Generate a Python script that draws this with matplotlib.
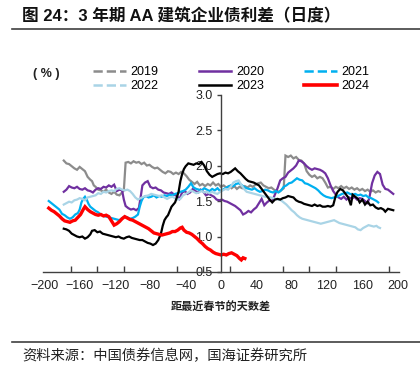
import matplotlib
matplotlib.use('Agg')
import matplotlib.pyplot as plt
from matplotlib.lines import Line2D
from matplotlib.ticker import MultipleLocator, FixedLocator

plt.rcParams['font.family'] = ['Liberation Sans', 'Noto Sans CJK SC', 'DejaVu Sans']

### data: days to nearest spring festival -> 3y AA construction bond spread (%)
days_2019 = [-178,-175,-172,-169,-166,-163,-160,-157,-154,-151,-148,-146,-144,-142,-139,-136,-133,-130,-127,-124,-121,-118,-115,-112,-110,-108,-105,-102,-99,-96,-93,-90,-87,-84,-81,-78,-75,-72,-69,-66,-63,-60,-57,-54,-51,-48,-45,-42,-39,-36,-33,-30,-27,-24,-21,-18,-15,-12,-9,-6,-3,0,3,6,9,12,15,18,21,24,27,30,33,36,39,42,45,48,51,54,57,60,63,66,69,71,73,76,79,82,85,88,91,94,97,100,103,106,109,112,115,118,121,124,127,130,133,136,139,142,145,148,151,154,157,160,163,166,169,172,175,178,180]
spread_2019 = [2.07,2.03,2.02,1.99,1.96,1.94,1.98,1.95,1.92,1.84,1.80,1.78,1.72,1.70,1.66,1.65,1.63,1.66,1.62,1.60,1.63,1.59,1.58,1.62,1.65,2.04,2.05,2.03,2.06,2.04,2.05,2.02,2.04,2.00,2.01,1.98,1.96,1.97,1.94,1.91,1.89,1.92,1.91,1.88,1.90,1.88,1.91,1.89,1.85,1.80,1.77,1.74,1.77,1.72,1.74,1.71,1.74,1.72,1.76,1.72,1.74,1.70,1.72,1.69,1.71,1.68,1.71,1.67,1.70,1.68,1.71,1.69,1.72,1.70,1.73,1.75,1.76,1.72,1.70,1.68,1.69,1.66,1.64,1.63,1.66,1.68,2.14,2.12,2.14,2.10,2.12,2.08,2.07,2.03,1.92,1.87,1.84,1.86,1.82,1.84,1.82,1.76,1.69,1.70,1.67,1.70,1.68,1.71,1.68,1.70,1.67,1.69,1.66,1.68,1.65,1.67,1.64,1.66,1.63,1.65,1.62,1.64,1.63]

days_2020 = [-178,-175,-172,-169,-166,-163,-160,-157,-154,-151,-148,-145,-142,-139,-136,-133,-130,-127,-124,-121,-118,-115,-112,-110,-108,-105,-102,-99,-96,-93,-91,-89,-86,-83,-80,-77,-74,-71,-68,-65,-62,-59,-56,-53,-50,-47,-44,-41,-38,-35,-32,-29,-26,-23,-20,-17,-14,-11,-8,-5,-2,1,4,7,10,13,16,19,22,25,28,31,34,37,40,43,46,49,52,55,58,61,64,67,70,73,76,79,82,85,88,91,94,97,100,103,106,109,112,115,118,121,124,127,130,133,136,139,142,145,148,151,154,157,160,163,166,168,171,174,177,180,183,186,189,192,195]
spread_2020 = [1.63,1.66,1.71,1.69,1.68,1.70,1.67,1.66,1.68,1.65,1.64,1.62,1.66,1.68,1.67,1.70,1.69,1.72,1.70,1.73,1.64,1.66,1.65,1.52,1.43,1.40,1.38,1.39,1.37,1.40,1.55,1.72,1.76,1.78,1.70,1.68,1.69,1.66,1.65,1.62,1.61,1.60,1.62,1.59,1.57,1.53,1.62,1.64,1.60,1.62,1.67,1.64,1.62,1.66,1.63,1.58,1.60,1.58,1.56,1.52,1.51,1.52,1.50,1.49,1.47,1.45,1.43,1.40,1.37,1.31,1.33,1.36,1.34,1.38,1.41,1.47,1.53,1.44,1.48,1.51,1.50,1.59,1.68,1.79,1.82,1.84,1.90,1.93,1.96,2.00,2.07,2.06,2.03,1.99,1.96,1.94,1.96,1.95,1.94,1.92,1.89,1.82,1.72,1.64,1.59,1.55,1.53,1.56,1.52,1.55,1.53,1.56,1.52,1.54,1.53,1.50,1.47,1.55,1.75,1.86,1.91,1.88,1.73,1.67,1.66,1.63,1.60]

days_2021 = [-195,-192,-189,-186,-183,-180,-177,-174,-171,-168,-165,-162,-160,-158,-156,-154,-152,-150,-148,-145,-142,-139,-136,-133,-130,-127,-124,-121,-118,-115,-112,-109,-106,-103,-100,-97,-94,-92,-90,-88,-85,-82,-79,-76,-73,-70,-67,-64,-61,-58,-55,-52,-49,-46,-43,-40,-37,-34,-31,-28,-25,-22,-19,-16,-13,-10,-7,-4,-1,2,5,8,11,14,17,20,23,26,29,32,35,38,41,44,47,50,53,56,59,62,65,68,71,74,77,80,83,86,89,92,95,98,101,104,107,110,113,116,119,122,125,128,131,134,137,140,143,146,149,152,155,158,161,164,167,170,173,176,178]
spread_2021 = [1.50,1.47,1.44,1.41,1.38,1.32,1.30,1.27,1.25,1.27,1.31,1.33,1.38,1.48,1.53,1.56,1.52,1.46,1.42,1.39,1.36,1.34,1.31,1.29,1.28,1.27,1.26,1.25,1.24,1.23,1.26,1.28,1.27,1.25,1.26,1.28,1.31,1.42,1.50,1.55,1.57,1.55,1.56,1.58,1.55,1.57,1.56,1.58,1.57,1.59,1.58,1.60,1.61,1.63,1.64,1.66,1.70,1.75,1.69,1.67,1.66,1.65,1.68,1.66,1.64,1.67,1.65,1.68,1.64,1.66,1.68,1.70,1.72,1.71,1.74,1.75,1.73,1.70,1.68,1.67,1.66,1.68,1.65,1.63,1.64,1.66,1.65,1.63,1.62,1.64,1.62,1.65,1.70,1.72,1.75,1.76,1.79,1.82,1.80,1.79,1.75,1.74,1.72,1.70,1.68,1.65,1.61,1.58,1.56,1.55,1.54,1.55,1.56,1.58,1.60,1.61,1.62,1.60,1.59,1.60,1.58,1.59,1.57,1.58,1.55,1.54,1.52,1.50,1.48]

days_2022 = [-178,-175,-172,-169,-166,-163,-160,-157,-154,-151,-148,-145,-142,-139,-136,-133,-130,-127,-124,-121,-118,-115,-112,-109,-106,-103,-100,-97,-94,-91,-88,-85,-82,-79,-76,-73,-70,-67,-64,-61,-58,-55,-52,-49,-46,-43,-40,-37,-34,-31,-28,-25,-22,-19,-16,-13,-10,-7,-4,-1,2,5,8,11,14,17,20,23,26,29,32,35,38,41,44,47,50,53,56,59,62,65,68,71,74,77,80,83,86,89,92,95,98,101,104,107,110,113,116,119,122,125,128,131,134,137,140,143,146,149,152,155,158,161,164,167,170,173,176,178,180]
spread_2022 = [1.45,1.47,1.49,1.48,1.51,1.52,1.54,1.53,1.51,1.55,1.56,1.57,1.58,1.61,1.60,1.63,1.62,1.64,1.65,1.64,1.67,1.68,1.66,1.65,1.66,1.64,1.60,1.55,1.52,1.54,1.56,1.57,1.58,1.60,1.59,1.58,1.57,1.58,1.55,1.53,1.55,1.56,1.54,1.52,1.53,1.58,1.60,1.62,1.65,1.63,1.61,1.62,1.64,1.62,1.63,1.61,1.63,1.61,1.60,1.63,1.65,1.67,1.66,1.70,1.76,1.78,1.79,1.73,1.67,1.63,1.62,1.61,1.60,1.59,1.58,1.57,1.56,1.56,1.55,1.54,1.53,1.52,1.51,1.48,1.45,1.41,1.37,1.34,1.30,1.27,1.25,1.24,1.23,1.22,1.21,1.20,1.19,1.18,1.19,1.20,1.21,1.22,1.23,1.21,1.19,1.18,1.17,1.16,1.15,1.14,1.13,1.10,1.09,1.12,1.14,1.16,1.15,1.14,1.15,1.13,1.12]

days_2023 = [-178,-175,-172,-169,-166,-163,-160,-157,-154,-151,-148,-146,-143,-140,-137,-134,-131,-128,-125,-122,-119,-116,-113,-110,-107,-104,-101,-98,-95,-92,-89,-86,-83,-80,-77,-74,-71,-68,-66,-64,-62,-60,-58,-56,-54,-52,-50,-48,-46,-44,-42,-40,-37,-34,-31,-28,-25,-22,-19,-16,-13,-10,-7,-4,-1,2,5,8,11,14,16,19,22,25,28,31,34,37,40,43,46,49,52,55,58,61,64,67,70,73,76,79,82,85,88,91,94,97,100,103,106,109,112,115,118,121,124,127,130,132,135,138,141,144,147,149,152,155,157,160,163,166,169,172,175,178,181,184,186,189,192,195]
spread_2023 = [1.11,1.10,1.08,1.04,1.02,1.00,0.99,1.00,0.97,0.99,1.03,1.08,1.09,1.06,1.07,1.04,1.03,1.02,1.01,1.00,0.99,1.00,0.98,0.97,0.99,1.00,0.98,0.97,0.96,0.95,0.95,0.93,0.91,0.90,0.88,0.90,0.95,1.04,1.15,1.23,1.27,1.30,1.36,1.42,1.45,1.48,1.55,1.63,1.78,1.88,1.95,1.99,2.03,2.02,2.01,2.03,2.02,2.05,2.00,1.92,1.87,1.84,1.86,1.88,1.89,1.88,1.90,1.89,1.91,1.94,1.96,1.92,1.89,1.85,1.81,1.78,1.77,1.76,1.74,1.72,1.67,1.62,1.57,1.52,1.48,1.52,1.53,1.52,1.54,1.55,1.57,1.56,1.55,1.51,1.49,1.48,1.46,1.45,1.44,1.43,1.45,1.43,1.44,1.42,1.42,1.43,1.42,1.44,1.58,1.63,1.67,1.65,1.60,1.55,1.44,1.59,1.56,1.53,1.48,1.52,1.45,1.49,1.44,1.45,1.41,1.39,1.40,1.38,1.35,1.39,1.38,1.37]

days_2024 = [-195,-192,-189,-186,-183,-180,-177,-174,-171,-168,-165,-162,-159,-156,-154,-151,-148,-145,-142,-139,-136,-133,-130,-127,-124,-121,-118,-115,-112,-109,-106,-103,-100,-97,-94,-91,-88,-85,-82,-79,-76,-73,-70,-67,-64,-61,-58,-55,-52,-49,-46,-44,-42,-39,-36,-33,-30,-27,-24,-21,-18,-15,-12,-9,-6,-3,0,3,6,9,12,15,18,21,23,25,27]
spread_2024 = [1.40,1.37,1.35,1.32,1.29,1.25,1.22,1.21,1.20,1.22,1.23,1.27,1.31,1.38,1.42,1.38,1.35,1.33,1.31,1.30,1.31,1.29,1.30,1.28,1.22,1.16,1.18,1.21,1.25,1.28,1.26,1.24,1.23,1.21,1.19,1.17,1.15,1.13,1.11,1.08,1.05,1.04,1.03,1.02,1.03,1.04,1.05,1.07,1.07,1.09,1.12,1.13,1.09,1.06,1.05,1.03,1.00,0.97,0.93,0.90,0.86,0.83,0.81,0.78,0.76,0.75,0.74,0.75,0.74,0.76,0.77,0.75,0.73,0.69,0.67,0.70,0.69]

years = ['2019', '2020', '2021', '2022', '2023', '2024']
colors = ['#8c8c8c', '#7030a0', '#00b0f0', '#a9d4e6', '#000000', '#ff0000']
styles = ['--', '-', '--', '--', '-', '-']
widths = [1.6, 1.6, 1.6, 1.6, 1.6, 2.4]
series = [(days_2019, spread_2019), (days_2020, spread_2020), (days_2021, spread_2021),
          (days_2022, spread_2022), (days_2023, spread_2023), (days_2024, spread_2024)]

fig = plt.figure(figsize=(4.2, 3.76), dpi=100)
ax = fig.add_axes([0.1024, 0.2766, 0.8476, 0.472])

for (d, s), c, w in zip(series, colors, widths):
    ax.plot(d, s, color=c, lw=w, solid_joinstyle='miter')

ax.set_xlim(-201.5, 201.5)
ax.set_ylim(0.5, 3.0)
ax.spines['top'].set_visible(False)
ax.spines['right'].set_visible(False)
ax.spines['left'].set_position(('data', 0))
for sp in ['left', 'bottom']:
    ax.spines[sp].set_color('#404040')
    ax.spines[sp].set_linewidth(1.0)

ax.xaxis.set_major_locator(MultipleLocator(40))
ax.xaxis.set_minor_locator(FixedLocator(list(range(-200, 201, 30))))
ax.yaxis.set_major_locator(MultipleLocator(0.5))
ax.yaxis.set_major_formatter(plt.FormatStrFormatter('%.1f'))
ax.tick_params(axis='x', which='major', length=0, pad=6, labelsize=9, colors='#222222')
ax.tick_params(axis='x', which='minor', length=4, width=1, color='#404040', direction='in')
ax.tick_params(axis='y', length=3, width=1, color='#404040', pad=3, labelsize=9, labelcolor='#222222')

ax.set_xlabel('距最近春节的天数差', fontsize=8, fontweight='bold', color='#222222', labelpad=6,
              family=['Noto Sans CJK SC'])

## legend with dashed proxies, filled row by row (matplotlib fills by column)
order = [0, 3, 1, 4, 2, 5]
handles = [Line2D([], [], color=colors[i], ls=styles[i], lw=(2.6 if years[i] == '2024' else 1.8)) for i in order]
labels = [years[i] for i in order]
fig.legend(handles, labels, loc='upper left', bbox_to_anchor=(93/420, 1 - 66/376), ncol=3,
           frameon=False, fontsize=9, handlelength=2.6, handletextpad=0.4, columnspacing=3.2,
           labelspacing=0.15, borderpad=0, borderaxespad=0)

fig.text(33/420, 1 - 74/376, '( % )', fontsize=9, fontweight='bold', va='center', color='#222222')

## title and source
fig.text(22/420, 1 - 16/376, '图 24：3 年期 AA 建筑企业债利差（日度）', fontsize=12, fontweight='bold',
         va='center', ha='left', color='#111111')
fig.add_artist(Line2D([12/420, 1], [1 - 29/376, 1 - 29/376], color='#404040', lw=1.2))
fig.add_artist(Line2D([12/420, 1], [1 - 342/376, 1 - 342/376], color='#404040', lw=1.2))
fig.text(22/420, 1 - 356/376, '资料来源：中国债券信息网，国海证券研究所', fontsize=10.3,
         va='center', ha='left', color='#222222', family=['Noto Sans CJK SC'])

fig.savefig('out.png', dpi=100)
